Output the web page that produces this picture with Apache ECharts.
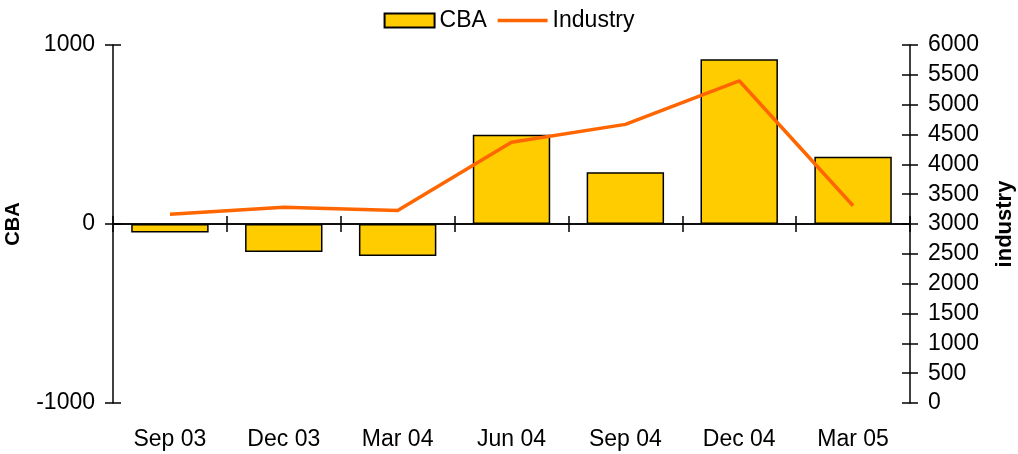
<!DOCTYPE html>
<html lang="en">
<head>
  <meta charset="UTF-8">
  <script src="https://cdn.jsdelivr.net/npm/echarts@6/dist/echarts.min.js"></script>
  <title>CBA vs Industry</title>
  <style>
    html, body { margin: 0; padding: 0; background: #ffffff; }
    #chart { width: 1018px; height: 454px; }
  </style>
</head>
<body>
<div id="chart"></div>
<script>
  const quarters = ['Sep 03', 'Dec 03', 'Mar 04', 'Jun 04', 'Sep 04', 'Dec 04', 'Mar 05'];
  const cbaValues = [-47, -156, -179, 498, 289, 920, 376];
  const industryValues = [3165, 3280, 3225, 4370, 4670, 5400, 3305];

  const font = 'Liberation Sans, Arial, sans-serif';
  const chart = echarts.init(document.getElementById('chart'));

  const leftRange = { min: -1000, max: 1000, interval: 1000 };
  const rightRange = { min: 0, max: 6000, interval: 500 };

  // ticks cross the axis line, so each axis is drawn twice (outside + inside ticks)
  function yAxis(pos, range, inside, extra) {
    return Object.assign({
      type: 'value',
      position: pos,
      min: range.min,
      max: range.max,
      interval: range.interval,
      splitLine: { show: false },
      axisLine: { show: !inside, lineStyle: { color: '#000', width: 1.5 } },
      axisTick: { show: true, inside: inside, length: 8, lineStyle: { color: '#000', width: 1.5 } },
      axisLabel: {
        show: !inside, color: '#000', fontSize: 23, fontFamily: font, margin: 18,
        formatter: v => String(v)
      }
    }, extra || {});
  }

  function xAxis(showLabel, inside) {
    return {
      type: 'category',
      position: 'bottom',
      data: quarters,
      boundaryGap: true,
      axisLine: {
        show: !showLabel,
        onZero: !showLabel,
        onZeroAxisIndex: 0,
        lineStyle: { color: '#000', width: 1.5 }
      },
      axisTick: { show: !showLabel, inside: inside, length: 8, alignWithLabel: false, lineStyle: { color: '#000', width: 1.5 } },
      axisLabel: { show: showLabel, color: '#000', fontSize: 23, fontFamily: font, margin: 25 },
      splitLine: { show: false }
    };
  }

  const option = {
    animation: false,
    textStyle: { fontFamily: font },
    legend: {
      top: 4,
      left: 'center',
      itemGap: 9,
      itemWidth: 50,
      itemHeight: 14,
      textStyle: { fontSize: 23, color: '#000', fontFamily: font },
      data: [
        { name: 'CBA', icon: 'rect' },
        { name: 'Industry', itemStyle: { opacity: 0 }, lineStyle: { width: 3.5, color: '#FF6600' } }
      ]
    },
    grid: { left: 113, right: 108, top: 45, bottom: 51, containLabel: false, outerBoundsMode: 'none' },
    xAxis: [xAxis(true, false), xAxis(false, false), xAxis(false, true)],
    yAxis: [
      yAxis('left', leftRange, false, {
        name: 'CBA',
        nameLocation: 'middle',
        nameRotate: 90,
        nameGap: 90,
        nameTextStyle: { fontSize: 20, fontWeight: 'bold', color: '#000', fontFamily: font }
      }),
      yAxis('right', rightRange, false, {
        name: 'industry',
        nameLocation: 'middle',
        nameRotate: 90,
        nameGap: 84,
        nameTextStyle: { fontSize: 22, fontWeight: 'bold', color: '#000', fontFamily: font }
      }),
      yAxis('left', leftRange, true),
      yAxis('right', rightRange, true)
    ],
    series: [
      {
        name: 'CBA',
        type: 'bar',
        xAxisIndex: 0,
        yAxisIndex: 0,
        data: cbaValues,
        barCategoryGap: '32%',
        itemStyle: { color: '#FFCC00', borderColor: '#000', borderWidth: 1.5 },
        z: 2
      },
      {
        name: 'Industry',
        type: 'line',
        xAxisIndex: 0,
        yAxisIndex: 1,
        data: industryValues,
        symbol: 'none',
        itemStyle: { color: '#FF6600' },
        lineStyle: { color: '#FF6600', width: 3.5 },
        z: 3
      }
    ]
  };

  chart.setOption(option);
</script>
</body>
</html>
